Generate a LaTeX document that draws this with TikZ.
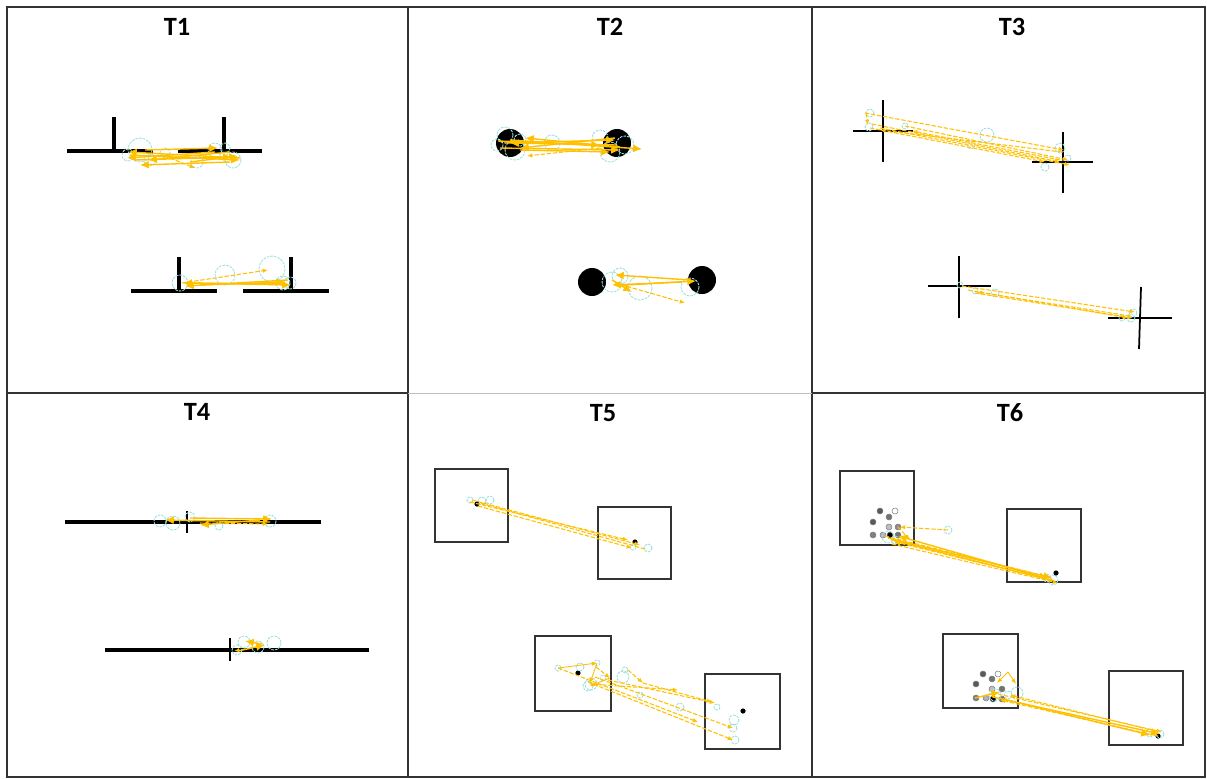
\documentclass[tikz,border=0pt]{standalone}
\usepackage{fontspec}
\setmainfont{Carlito}
\usetikzlibrary{arrows.meta}
\definecolor{traj}{HTML}{FFC000}
\definecolor{fixc}{HTML}{9EDFE0}
\definecolor{frame}{HTML}{333333}
\tikzset{
  wall/.style={line width=1.8pt,black},
  crossline/.style={line width=1.0pt,black},
  box/.style={line width=1.1pt,draw=frame},
  arr/.style={traj,line width=0.8pt,-{Latex[length=5pt,width=4.5pt]}},
  darr/.style={traj,line width=0.6pt,dash pattern=on 2.5pt off 1pt,-{Latex[length=3pt,width=2.5pt]}},
  fix/.style={fixc,line width=0.5pt,dash pattern=on 1.5pt off 0.6pt},
  title/.style={font=\fontsize{15}{17}\selectfont\bfseries,inner sep=0pt},
  grid/.style={line width=0.9pt,draw=frame},
}
\begin{document}
\begin{tikzpicture}[x=0.02cm,y=-0.02cm]
\useasboundingbox (0,0) rectangle (1207,778);
% frame
\draw[grid] (7,7) rectangle (1205,777);
\draw[grid] (408,7) -- (408,777);
\draw[grid] (812,7) -- (812,777);
\draw[grid] (7,393) -- (408,393);
\draw[grid] (812,393) -- (1205,393);
\draw[line width=0.5pt,draw=black!25] (408,393) -- (812,393);
% titles
\node[title] (t1) at (177,27) {T1};
\node[title] (t2) at (610,27) {T2};
\node[title] (t3) at (1012,27) {T3};
\node[title] (t4) at (197,412) {T4};
\node[title] (t5) at (603,413) {T5};
\node[title] (t6) at (1010,413) {T6};

% ---------- T1 top
\draw[wall] (67,151) -- (153,151); \draw[wall] (114,117) -- (114,151);
\draw[wall] (178,151) -- (262,151); \draw[wall] (224,117) -- (224,151);
\foreach \x/\y/\r in {140/150/12,128/155/6,165/153/5,197/162/6,215/150/7,233/160/8,225/148/5,150/160/6}
  \draw[fix] (\x,\y) circle (\r);
\draw[arr] (130,155) -- (240,160);
\draw[arr] (240,158) -- (128,152);
\draw[arr] (135,160) -- (232,157);
\draw[arr] (230,162) -- (140,165);
\draw[arr] (145,150) -- (218,148);
\draw[arr] (215,152) -- (127,158);
\draw[arr] (190,162) -- (238,156);
\draw[darr] (170,158) -- (195,168);
\draw[arr] (230,152) -- (148,160);
% ---------- T1 bottom
\draw[wall] (131,291) -- (217,291); \draw[wall] (179,257) -- (179,291);
\draw[wall] (243,291) -- (329,291); \draw[wall] (291,257) -- (291,291);
\foreach \x/\y/\r in {272/269/13,225/275/10,180/283/8,283/283/7,290/283/6}
  \draw[fix] (\x,\y) circle (\r);
\draw[darr] (182,283) -- (268,270);
\draw[arr] (285,284) -- (183,283);
\draw[arr] (192,283) -- (291,285);
\draw[arr] (288,280) -- (185,286);
\draw[arr] (200,285) -- (285,282);

% ---------- T2 top
\fill (510,143) circle (14); \fill (617,143) circle (14);
\foreach \x/\y/\r in {505/135/8,497/145/6,515/150/10,552/143/8,600/138/8,610/152/10,625/145/9,520/140/6}
  \draw[fix] (\x,\y) circle (\r);
\draw[arr] (505,143) -- (615,140);
\draw[arr] (617,145) -- (510,143);
\draw[arr] (500,148) -- (620,150);
\draw[arr] (620,147) -- (525,138);
\draw[arr] (510,140) -- (642,149);
\draw[darr] (600,148) -- (527,156);
\draw[arr] (615,138) -- (520,148);
\draw[arr] (520,150) -- (610,152);
\draw[arr] (498,141) -- (600,145);
% ---------- T2 bottom
\fill (592,282) circle (14); \fill (702,280) circle (14);
\foreach \x/\y/\r in {612/282/10,620/276/8,640/288/12,690/287/9}
  \draw[fix] (\x,\y) circle (\r);
\draw[arr] (690,280) -- (615,275);
\draw[arr] (682,282) -- (612,285);
\draw[darr] (615,283) -- (685,303);
\draw[arr] (612,280) -- (632,292);
\draw[arr] (625,285) -- (696,281);

% ---------- T3 top
\draw[crossline] (853,131) -- (913,131); \draw[crossline] (883,100) -- (883,162);
\draw[crossline] (1032,162) -- (1093,162); \draw[crossline] (1063,132) -- (1063,193);
\foreach \x/\y/\r in {870/113/4,869/127/4,905/126/3,987/135/7,971/145/4,1045/167/4,1060/148/5,1068/158/3}
  \draw[fix] (\x,\y) circle (\r);
\draw[darr] (865,113) -- (1064,150);
\draw[darr] (872,124) -- (1060,162);
\draw[darr] (880,128) -- (1070,165);
\draw[darr] (1062,152) -- (880,130);
\draw[darr] (905,126) -- (1068,160);
\draw[darr] (870,128) -- (1045,162);
\draw[darr] (1060,160) -- (912,131);
\draw[darr] (866,113) -- (868,125);
% ---------- T3 bottom
\draw[crossline] (928,286) -- (991,286); \draw[crossline] (959,256) -- (959,318);
\draw[crossline] (1108,318) -- (1172,318); \draw[crossline] (1141,287) -- (1139,349);
\foreach \x/\y/\r in {960/285/3,975/291/3,995/293/4,1122/318/3,1131/318/4,1133/313/4}
  \draw[fix] (\x,\y) circle (\r);
\draw[darr] (962,286) -- (1135,312);
\draw[darr] (968,290) -- (1128,318);
\draw[darr] (1130,316) -- (977,292);
\draw[darr] (975,293) -- (1133,318);

% ---------- T4 top
\draw[wall] (65,522) -- (321,522); \draw[crossline] (187,511) -- (187,533);
\foreach \x/\y/\r in {160/521/6,173/523/7,190/517/5,219/526/4,270/521/6}
  \draw[fix] (\x,\y) circle (\r);
\draw[arr] (190,518) -- (272,519);
\draw[arr] (270,522) -- (165,520);
\draw[darr] (200,523) -- (268,524);
\draw[arr] (260,520) -- (200,525);
% ---------- T4 bottom
\draw[wall] (105,650) -- (369,650); \draw[crossline] (230,638) -- (230,661);
\foreach \x/\y/\r in {244/642/6,258/647/6,274/643/7,237/650/5}
  \draw[fix] (\x,\y) circle (\r);
\draw[arr] (238,651) -- (265,645);
\draw[arr] (262,644) -- (245,641);
\draw[darr] (252,648) -- (234,651);

% ---------- T5 top
\draw[box] (435,469) rectangle (508,542);
\draw[box] (598,507) rectangle (671,579);
\fill (477,504) circle (2.6); \fill (635,542) circle (2.6);
\foreach \x/\y/\r in {470/500/3,482/501/4,490/500/4,633/547/3,648/548/4}
  \draw[fix] (\x,\y) circle (\r);
\draw[darr] (472,500) -- (640,545);
\draw[darr] (478,506) -- (632,548);
\draw[darr] (645,549) -- (480,503);
\draw[darr] (470,502) -- (628,540);
% ---------- T5 bottom
\draw[box] (535,636) rectangle (611,711);
\draw[box] (705,674) rectangle (780,749);
\fill (578,673) circle (2.6); \fill (743,711) circle (2.6);
\foreach \x/\y/\r in {558/668/3,580/667/4,597/663/3,591/684/6,588/686/5,603/678/3,623/677/6,625/670/3,640/695/3,680/707/4,717/707/3,734/720/5,733/728/4,735/740/4}
  \draw[fix] (\x,\y) circle (\r);
\draw[arr,line width=0.5pt,-{Latex[length=3pt,width=2.5pt]}] (558,668) -- (597,663);
\draw[arr,line width=0.5pt,-{Latex[length=3pt,width=2.5pt]}] (597,663) -- (590,683);
\draw[darr] (558,668) -- (698,722);
\draw[darr] (590,684) -- (678,690);
\draw[darr] (608,680) -- (715,703);
\draw[darr] (588,682) -- (733,740);
\draw[darr] (595,677) -- (733,728);
\draw[darr] (628,670) -- (643,683);
\draw[darr] (643,683) -- (712,702);
\draw[darr] (596,667) -- (610,678);
\draw[arr,line width=0.5pt,-{Latex[length=3pt,width=2.5pt]}] (610,678) -- (590,686);

% ---------- T6 top
\draw[box] (840,471) rectangle (914,545);
\draw[box] (1007,509) rectangle (1081,582);
\foreach \x/\y/\c in {880/511/black!65,895/511/white,873/522/black!65,889/517/black!55,889/527/black!25,898/527/black!45,873/535/black!50,883/535/black!30,890/535/black,898/535/black!55}
  \filldraw[fill=\c,draw=black!50,line width=0.3pt] (\x,\y) circle (3);
\fill (1056,573) circle (2.6);
\foreach \x/\y/\r in {888/537/6,895/540/4,948/530/4,1053/580/5,1047/578/4}
  \draw[fix] (\x,\y) circle (\r);
\draw[darr] (948,530) -- (900,527);
\draw[arr] (888,538) -- (1052,578);
\draw[arr] (1050,580) -- (892,540);
\draw[darr] (895,542) -- (1055,581);
\draw[darr] (885,536) -- (1045,576);
\draw[arr] (1045,578) -- (898,536);
\draw[darr] (898,527) -- (910,540);
\draw[darr] (892,544) -- (1058,583);
% ---------- T6 bottom
\draw[box] (943,634) rectangle (1018,708);
\draw[box] (1109,671) rectangle (1183,745);
\foreach \x/\y/\c in {983/674/black!65,998/674/white,976/684/black!65,992/679/black!55,992/689/black!25,1002/689/black!55,976/698/black!50,986/698/black!30,993/699/black,1002/699/black!55}
  \filldraw[fill=\c,draw=black!50,line width=0.3pt] (\x,\y) circle (3);
\fill (1158,736) circle (2.6);
\foreach \x/\y/\r in {995/695/6,1008/695/4,1017/693/6,1150/733/4,1160/734/4}
  \draw[fix] (\x,\y) circle (\r);
\draw[arr,line width=0.5pt,-{Latex[length=3pt,width=2.5pt]}] (1008,672) -- (997,683);
\draw[arr,line width=0.5pt,-{Latex[length=3pt,width=2.5pt]}] (1008,672) -- (1016,684);
\draw[arr] (975,698) -- (1000,692);
\draw[arr] (993,697) -- (1160,734);
\draw[darr] (1158,736) -- (1000,700);
\draw[darr] (998,694) -- (1162,732);
\draw[arr] (1003,699) -- (1150,735);
\draw[darr] (1155,731) -- (1010,695);
\end{tikzpicture}
\end{document}
